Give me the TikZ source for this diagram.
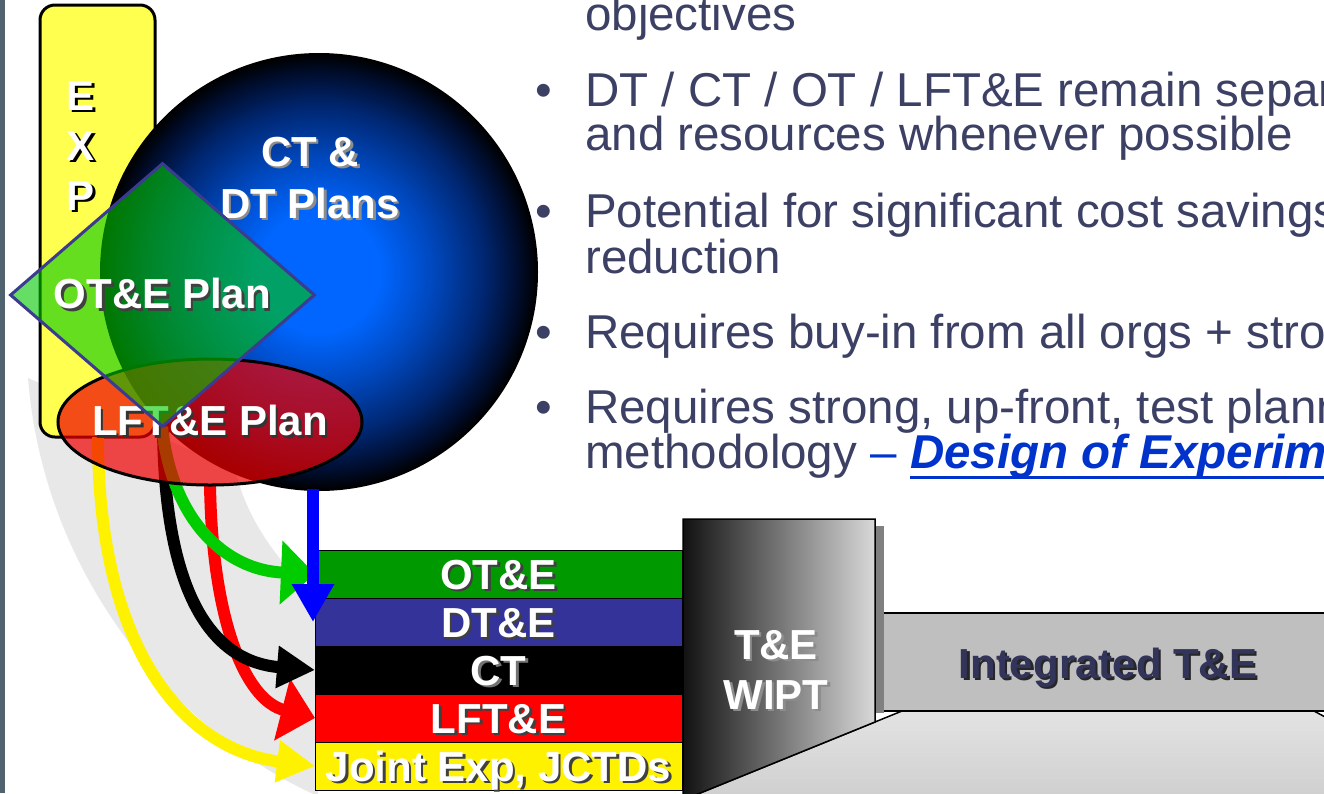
\documentclass[tikz,border=0pt]{standalone}
\usepackage{fontspec}
\setmainfont{Liberation Sans}
\usepackage{tikz}
\usetikzlibrary{arrows.meta,positioning,shapes.geometric}

\definecolor{edgeslate}{RGB}{80,100,112}
\definecolor{swoosh}{RGB}{232,232,232}
\definecolor{expyellow}{RGB}{255,255,80}
\definecolor{spherelit}{RGB}{0,102,255}
\definecolor{spheremid}{RGB}{0,72,190}
\definecolor{spheredim}{RGB}{0,38,112}
\definecolor{spheredark}{RGB}{0,12,42}
\definecolor{plangreen}{RGB}{0,200,0}
\definecolor{planred}{RGB}{240,0,0}
\definecolor{planrim}{RGB}{59,59,143}
\definecolor{otgreen}{RGB}{0,153,0}
\definecolor{dtblue}{RGB}{51,51,153}
\definecolor{flowgreen}{RGB}{0,204,0}
\definecolor{intnavy}{RGB}{50,52,90}
\definecolor{bodytext}{RGB}{60,64,100}
\definecolor{linkblue}{RGB}{0,51,204}

\pgfdeclareradialshading{sphereshade}{\pgfpoint{0bp}{0bp}}{color(0bp)=(spherelit); color(7bp)=(spherelit); color(13bp)=(spheremid); color(19bp)=(spheredim); color(23bp)=(spheredark); color(25bp)=(black); color(50bp)=(black)}

\def\shtext#1#2{\leavevmode\rlap{\kern2.5pt\raisebox{-2.5pt}{\color{#1}#2}}#2}
\def\ulink#1{\setbox0\hbox{#1}\rlap{\rule[-11pt]{\wd0}{3pt}}\box0}

\begin{document}
\begin{tikzpicture}[x=1pt, y=-1pt,
    heavy/.style={font=\fontsize{42}{46}\selectfont\bfseries, text=white},
    bodyline/.style={anchor=base west, inner sep=0pt, font=\fontsize{47.5}{50}\selectfont, text=bodytext},
    stackrow/.style={heavy, draw=black, line width=1pt, outer sep=0pt, inner sep=0pt, minimum width=367pt, minimum height=48pt, text height=30pt, text depth=0pt},
    flow/.style={line width=12pt, -{Triangle[length=38pt, width=40pt]}},
    wideflow/.style={line width=12pt, -{Triangle[length=34pt, width=62pt]}}]
		%%%%% START %%%%%
		
		\useasboundingbox (0, 0) rectangle (1324, 793);
		\clip (0, 0) rectangle (1324, 793);
		\fill[white] (0, 0) rectangle (1324, 793);
		\fill[edgeslate] (0, 0) rectangle (5, 793);
		
		% shadow swoosh behind the arrows
		\fill[swoosh] (28, 378) .. controls (45, 590) and (190, 740) .. (318, 796) -- (315, 600) .. controls (285, 565) and (250, 530) .. (235, 470) -- cycle;
		
		% EXP bar
		\draw[fill=expyellow, line width=3pt, rounded corners=15pt] (40, 5) rectangle (155, 437);
		\node[heavy, align=center, font=\fontsize{42}{50}\selectfont\bfseries] (exptext) at (81, 147) {\shtext{black}{E}\\\shtext{black}{X}\\\shtext{black}{P}};
		
		% CT & DT sphere
		\node[circle, draw=black, line width=2pt, inner sep=0pt, minimum size=436pt, shade, shading=sphereshade] (sphere) at (319, 272) {};
		\node[heavy, align=center, font=\fontsize{42}{52}\selectfont\bfseries] (spheretext) at (310, 179) {\shtext{black!45}{CT \&}\\\shtext{black!45}{DT Plans}};
		
		% test event stack
		\node[stackrow, fill=otgreen, anchor=north west] (ote) at (315, 550) {\shtext{black!75}{OT\&E}};
		\node[stackrow, fill=dtblue, below=0pt of ote] (dte) {\shtext{black!75}{DT\&E}};
		\node[stackrow, fill=black, below=0pt of dte] (ct) {\shtext{black!55}{CT}};
		\node[stackrow, fill=red, below=0pt of ct] (lfte) {\shtext{black!75}{LFT\&E}};
		\node[stackrow, fill=yellow, below=0pt of lfte] (jct) {\shtext{black!75}{Joint Exp, JCTDs}};
		
		% plan arrows
		\coordinate (expfoot) at (98, 437);
		\coordinate (ctfoot) at (163, 430);
		\coordinate (otfoot) at (162, 427);
		\coordinate (lftfoot) at (210, 484);
		\coordinate (dtfoot) at (313, 489);
		
		\draw[flow, yellow] (expfoot) .. controls (98, 650) and (185, 750) .. (jct.west);
		\draw[wideflow, red] (lftfoot) .. controls (212, 620) and (245, 700) .. (lfte.west);
		\draw[flow, black] (ctfoot) .. controls (165, 600) and (215, 662) .. (ct.west);
		\draw[wideflow, flowgreen] (otfoot) .. controls (172, 520) and (225, 570) .. (ote.west);
		\draw[flow, blue] (dtfoot) -- (dtfoot |- dte.west);
		
		% LFT&E ellipse, OT&E diamond on top
		\node[ellipse, draw=black, line width=3pt, fill=planred, fill opacity=0.7, text opacity=1, inner sep=0pt, minimum width=304pt, minimum height=126pt, heavy] (lftplan) at (210, 422) {\makebox[0pt]{\shtext{black!80}{LFT\&E Plan}}};
		\node[diamond, draw=planrim, line width=3pt, fill=plangreen, fill opacity=0.6, text opacity=1, inner sep=0pt, aspect=1.15, minimum width=305pt, minimum height=264pt, heavy] (otplan) at (162.5, 295) {\shtext{black!75}{OT\&E Plan}};
		
		% floor, Integrated T&E bar, WIPT wall
		\fill[top color=black!11, bottom color=black!19] (902, 711) -- (1314, 711) -- (1340, 725) -- (1340, 800) -- (683, 800) -- cycle;
		\draw[line width=1.5pt] (683, 800) -- (902, 711) -- (1314, 711) -- (1340, 725);
		\fill[black!50] (875, 526) rectangle (884, 713);
		\fill[black!25] (884, 613) rectangle (1330, 711);
		\draw[line width=1.5pt] (884, 613) -- (1330, 613);
		\draw[line width=1.5pt] (884, 711) -- (1330, 711);
		\node[heavy, text=intnavy, text height=30pt, text depth=0pt] (inttext) at (1108, 663) {\shtext{black!85}{Integrated T\&E}};
		\draw[left color=black!93, right color=black!15, line width=1.5pt] (683, 519) -- (875, 519) -- (875, 722) -- (683, 800) -- cycle;
		\node[heavy, align=center, font=\fontsize{42}{50}\selectfont\bfseries] (wipttext) at (776, 671) {\shtext{black!45}{T\&E}\\\shtext{black!45}{WIPT}};
		
		% bullet text
		\node[bodyline] (line1) at (585, 30) {objectives};
		\node[bodyline] (line2) at (585, 106) {\llap{\textbullet\hspace{33.5pt}}DT / CT / OT / LFT\&E remain separate};
		\node[bodyline] (line3) at (585, 150) {and resources whenever possible};
		\node[bodyline] (line4) at (585, 227) {\llap{\textbullet\hspace{33.5pt}}Potential for significant cost savings};
		\node[bodyline] (line5) at (585, 273) {reduction};
		\node[bodyline] (line6) at (585, 348) {\llap{\textbullet\hspace{33.5pt}}Requires buy-in from all orgs + strong};
		\node[bodyline] (line7) at (585, 423) {\llap{\textbullet\hspace{33.5pt}}Requires strong, up-front, test planning};
		\node[bodyline] (line8) at (585, 468) {methodology {\color{linkblue}– \ulink{\bfseries\itshape Design of Experiments}}};
		
		%%%%% END %%%%%
\end{tikzpicture}
\end{document}
